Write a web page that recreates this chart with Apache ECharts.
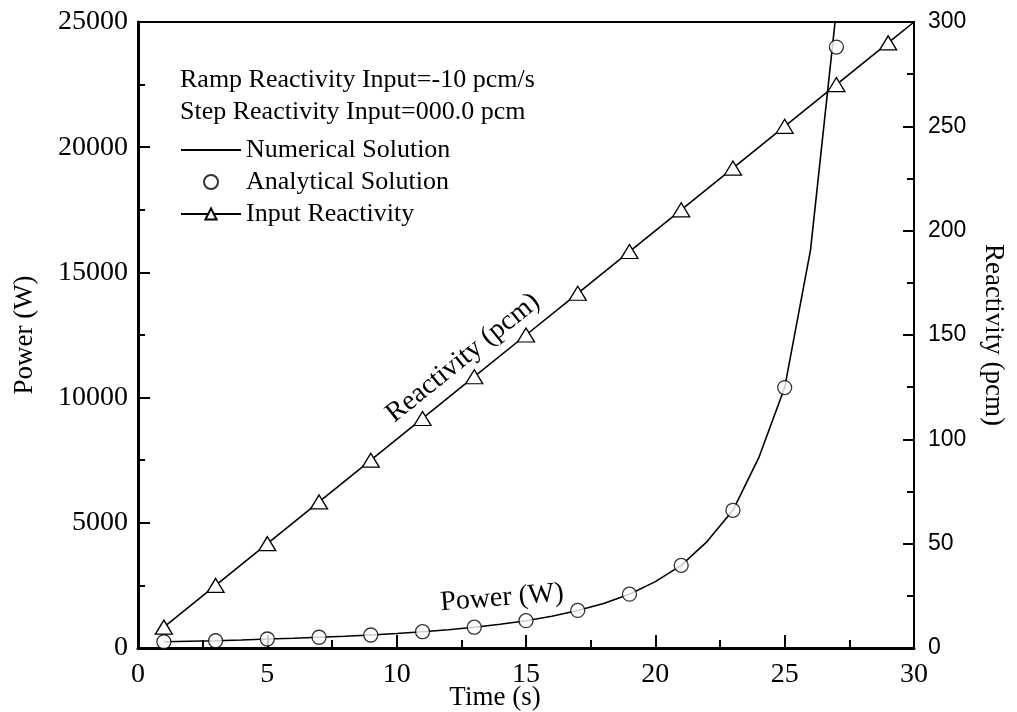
<!DOCTYPE html>
<html>
<head>
<meta charset="utf-8">
<script src="https://cdn.jsdelivr.net/npm/echarts@6/dist/echarts.min.js"></script>
<style>
  html, body { margin: 0; padding: 0; background: #fff; }
  #chart { width: 1017px; height: 712px; }
</style>
</head>
<body>
<div id="chart"></div>
<script>
// numerical solution, every second
const numTime = [1, 2, 3, 4, 5, 6, 7, 8, 9, 10, 11, 12, 13, 14, 15, 16, 17, 18, 19, 20, 21, 22, 23, 24, 25, 26, 27];
const numPower = [250, 270, 290, 320, 360, 390, 430, 470, 520, 580, 650, 730, 830, 950, 1090, 1270, 1500, 1780, 2150, 2650, 3300, 4250, 5500, 7600, 10400, 15900, 25500];

// analytical solution (circles)
const anaTime = [1, 3, 5, 7, 9, 11, 13, 15, 17, 19, 21, 23, 25, 27];
const anaPower = [250, 290, 360, 430, 520, 650, 830, 1090, 1500, 2150, 3300, 5500, 10400, 24000];

// input reactivity (triangles), line runs to the corner
const reacTime = [1, 3, 5, 7, 9, 11, 13, 15, 17, 19, 21, 23, 25, 27, 29, 30];
const reacValue = [10, 30, 50, 70, 90, 110, 130, 150, 170, 190, 210, 230, 250, 270, 290, 300];

const serif = "'Liberation Serif', 'Times New Roman', serif";
const sans = "'Liberation Sans', Arial, sans-serif";

let chart = echarts.init(document.getElementById('chart'));

chart.setOption({
  animation: false,
  grid: {
    left: 138, right: 103, top: 22, bottom: 64,
    outerBoundsMode: 'none',
    containLabel: false,
    show: true,
    borderColor: '#000',
    borderWidth: 2
  },
  legend: {
    orient: 'vertical',
    left: 180,
    top: 137,
    padding: 0,
    itemWidth: 60,
    itemHeight: 14,
    itemGap: 6,
    textStyle: { fontFamily: serif, fontSize: 26, color: '#000' },
    data: [
      { name: 'Numerical Solution', itemStyle: { opacity: 0 } },
      { name: 'Analytical Solution', itemStyle: { borderWidth: 2 } },
      'Input Reactivity'
    ]
  },
  xAxis: {
    type: 'value',
    min: 0, max: 30, interval: 5,
    name: 'Time (s)',
    nameLocation: 'middle',
    nameGap: 36,
    nameMoveOverlap: false,
    nameTextStyle: { fontFamily: serif, fontSize: 27, color: '#000', padding: [0, 62, 0, 0] },
    axisLine: { onZero: false, lineStyle: { color: '#000', width: 3 } },
    axisTick: { inside: true, length: 13, lineStyle: { color: '#000', width: 2 } },
    minorTick: { show: true, splitNumber: 2, length: 8, lineStyle: { color: '#000', width: 2 } },
    splitLine: { show: false },
    axisLabel: { fontFamily: serif, fontSize: 28, color: '#000', margin: 13 }
  },
  yAxis: [
    {
      type: 'value',
      min: 0, max: 25000, interval: 5000,
      position: 'left',
      name: 'Power (W)',
      nameLocation: 'middle',
      nameGap: 100,
      nameMoveOverlap: false,
      nameTextStyle: { fontFamily: serif, fontSize: 27, color: '#000' },
      axisLine: { show: true, lineStyle: { color: '#000', width: 3 } },
      axisTick: { inside: true, length: 12, lineStyle: { color: '#000', width: 2 } },
      minorTick: { show: true, splitNumber: 2, length: 7, lineStyle: { color: '#000', width: 2 } },
      splitLine: { show: false },
      axisLabel: { fontFamily: serif, fontSize: 28, color: '#000', margin: 10, formatter: v => String(v) }
    },
    {
      type: 'value',
      min: 0, max: 300, interval: 50,
      position: 'right',
      name: 'Reactivity (pcm)',
      nameLocation: 'middle',
      nameRotate: -90,
      nameGap: 66,
      nameMoveOverlap: false,
      nameTextStyle: { fontFamily: serif, fontSize: 27, color: '#000' },
      axisLine: { show: true, lineStyle: { color: '#000', width: 2 } },
      axisTick: { inside: true, length: 11, lineStyle: { color: '#000', width: 2 } },
      minorTick: { show: true, splitNumber: 2, length: 7, lineStyle: { color: '#000', width: 2 } },
      splitLine: { show: false },
      axisLabel: { fontFamily: sans, fontSize: 23, color: '#000', margin: 14 }
    }
  ],
  series: [
    {
      name: 'Numerical Solution',
      type: 'line',
      yAxisIndex: 0,
      symbol: 'none',
      color: '#000',
      lineStyle: { color: '#000', width: 1.6 },
      data: numTime.map((t, i) => [t, numPower[i]]),
      z: 2
    },
    {
      name: 'Analytical Solution',
      type: 'scatter',
      yAxisIndex: 0,
      symbol: 'circle',
      symbolSize: 14,
      color: '#fff',
      itemStyle: { color: '#fff', borderColor: '#000', borderWidth: 1.3 },
      data: anaTime.map((t, i) => [t, anaPower[i]]),
      z: 4
    },
    {
      name: 'Input Reactivity',
      type: 'line',
      yAxisIndex: 1,
      symbol: 'triangle',
      symbolSize: [17, 14],
      showAllSymbol: true,
      color: '#fff',
      lineStyle: { color: '#000', width: 1.6 },
      itemStyle: { color: '#fff', borderColor: '#000', borderWidth: 1.3 },
      data: reacTime.map((t, i) => {
        let p = { value: [t, reacValue[i]] };
        if (i === reacTime.length - 1) p.symbol = 'none';
        return p;
      }),
      z: 3
    }
  ],
  graphic: [
    {
      type: 'text', left: 180, top: 67,
      style: { text: 'Ramp Reactivity Input=-10 pcm/s', font: '26px ' + serif, fill: '#000' }
    },
    {
      type: 'text', left: 180, top: 99,
      style: { text: 'Step Reactivity Input=000.0 pcm', font: '26px ' + serif, fill: '#000' }
    },
    {
      type: 'text', x: 463, y: 358, rotation: 0.68,
      style: { text: 'Reactivity (pcm)', font: '28px ' + serif, fill: '#000', align: 'center', verticalAlign: 'middle' }
    },
    {
      type: 'text', x: 502, y: 598, rotation: 0.08,
      style: { text: 'Power (W)', font: '28px ' + serif, fill: '#000', align: 'center', verticalAlign: 'middle' }
    }
  ]
});
</script>
</body>
</html>
